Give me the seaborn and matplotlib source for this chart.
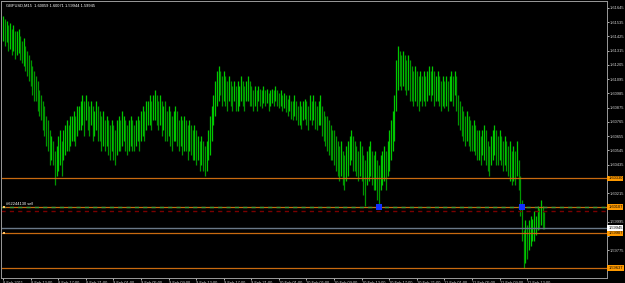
import matplotlib
matplotlib.use("Agg")
import matplotlib.pyplot as plt
import seaborn as sns
import pandas as pd
import numpy as np

# ---------------- data ----------------
title_text = "GBPUSD,M15  1.60059 1.60071 1.59944 1.59945"

# M15 bars, 8 Feb 2011 09:00 onwards (high / low), four bars per row = one hour
bar_high = [
    1.6158, 1.6156, 1.6154, 1.6151, 1.6153, 1.6148, 1.6151, 1.6147,
    1.6147, 1.6148, 1.6143, 1.6139, 1.6141, 1.6135, 1.6131, 1.6128,
    1.6124, 1.6120, 1.6116, 1.6112, 1.6108, 1.6101, 1.6097, 1.6093,
    1.6089, 1.6081, 1.6078, 1.6070, 1.6066, 1.6062, 1.6054, 1.6058,
    1.6066, 1.6070, 1.6062, 1.6070, 1.6074, 1.6078, 1.6074, 1.6081,
    1.6081, 1.6085, 1.6081, 1.6089, 1.6089, 1.6093, 1.6097, 1.6093,
    1.6097, 1.6093, 1.6089, 1.6093, 1.6089, 1.6085, 1.6093, 1.6089,
    1.6085, 1.6081, 1.6085, 1.6078, 1.6081, 1.6078, 1.6074, 1.6078,
    1.6074, 1.6070, 1.6078, 1.6081, 1.6078, 1.6085, 1.6081, 1.6078,
    1.6074, 1.6078, 1.6081, 1.6078, 1.6074, 1.6078, 1.6081, 1.6078,
    1.6085, 1.6089, 1.6085, 1.6093, 1.6093, 1.6097, 1.6093, 1.6097,
    1.6101, 1.6097, 1.6093, 1.6097, 1.6093, 1.6089, 1.6093, 1.6085,
    1.6089, 1.6085, 1.6081, 1.6085, 1.6089, 1.6085, 1.6078, 1.6081,
    1.6078, 1.6081, 1.6078, 1.6074, 1.6078, 1.6074, 1.6070, 1.6074,
    1.6070, 1.6066, 1.6062, 1.6066, 1.6062, 1.6058, 1.6062, 1.6070,
    1.6081, 1.6089, 1.6097, 1.6108, 1.6116, 1.6120, 1.6116, 1.6112,
    1.6116, 1.6112, 1.6108, 1.6112, 1.6108, 1.6104, 1.6108, 1.6104,
    1.6108, 1.6104, 1.6112, 1.6108, 1.6104, 1.6108, 1.6112, 1.6108,
    1.6104, 1.6101, 1.6104, 1.6101, 1.6104, 1.6102, 1.6101, 1.6104,
    1.6101, 1.6102, 1.6099, 1.6101, 1.6102, 1.6101, 1.6104, 1.6101,
    1.6099, 1.6101, 1.6097, 1.6099, 1.6097, 1.6094, 1.6097, 1.6093,
    1.6093, 1.6097, 1.6093, 1.6089, 1.6093, 1.6089, 1.6093, 1.6094,
    1.6093, 1.6089, 1.6097, 1.6093, 1.6097, 1.6093, 1.6089, 1.6093,
    1.6097, 1.6089, 1.6085, 1.6081, 1.6081, 1.6078, 1.6074, 1.6070,
    1.6070, 1.6066, 1.6062, 1.6058, 1.6062, 1.6054, 1.6051, 1.6058,
    1.6062, 1.6066, 1.6070, 1.6066, 1.6062, 1.6058, 1.6054, 1.6062,
    1.6058, 1.6051, 1.6047, 1.6054, 1.6058, 1.6062, 1.6054, 1.6051,
    1.6054, 1.6047, 1.6043, 1.6051, 1.6054, 1.6058, 1.6054, 1.6062,
    1.6070, 1.6078, 1.6085, 1.6097, 1.6124, 1.6135, 1.6131, 1.6128,
    1.6131, 1.6128, 1.6124, 1.6128, 1.6124, 1.6120, 1.6116, 1.6120,
    1.6116, 1.6112, 1.6116, 1.6112, 1.6116, 1.6112, 1.6116, 1.6120,
    1.6116, 1.6120, 1.6116, 1.6112, 1.6116, 1.6112, 1.6108, 1.6112,
    1.6108, 1.6112, 1.6108, 1.6112, 1.6116, 1.6112, 1.6116, 1.6112,
    1.6097, 1.6093, 1.6089, 1.6085, 1.6081, 1.6085, 1.6081, 1.6078,
    1.6074, 1.6078, 1.6074, 1.6070, 1.6070, 1.6066, 1.6070, 1.6074,
    1.6070, 1.6062, 1.6058, 1.6066, 1.6070, 1.6074, 1.6070, 1.6066,
    1.6070, 1.6066, 1.6062, 1.6066, 1.6062, 1.6058, 1.6062, 1.6054,
    1.6058, 1.6054, 1.6062, 1.6047, 1.6035, 1.6016, 1.5993, 1.6001,
    1.5997, 1.6001, 1.6004, 1.6002, 1.6008, 1.6004, 1.6012, 1.6010,
    1.6016, 1.6012, 1.6007]
bar_low = [
    1.6139, 1.6135, 1.6138, 1.6131, 1.6133, 1.6128, 1.6131, 1.6125,
    1.6128, 1.6130, 1.6124, 1.6122, 1.6120, 1.6116, 1.6112, 1.6108,
    1.6104, 1.6097, 1.6093, 1.6093, 1.6085, 1.6081, 1.6078, 1.6070,
    1.6066, 1.6058, 1.6054, 1.6043, 1.6047, 1.6043, 1.6028, 1.6035,
    1.6039, 1.6043, 1.6035, 1.6047, 1.6051, 1.6054, 1.6054, 1.6058,
    1.6062, 1.6062, 1.6058, 1.6066, 1.6070, 1.6070, 1.6074, 1.6066,
    1.6078, 1.6070, 1.6066, 1.6074, 1.6062, 1.6066, 1.6070, 1.6062,
    1.6062, 1.6054, 1.6058, 1.6054, 1.6058, 1.6051, 1.6047, 1.6054,
    1.6047, 1.6043, 1.6051, 1.6054, 1.6054, 1.6058, 1.6062, 1.6054,
    1.6051, 1.6054, 1.6058, 1.6054, 1.6054, 1.6058, 1.6062, 1.6054,
    1.6062, 1.6066, 1.6062, 1.6070, 1.6074, 1.6074, 1.6070, 1.6078,
    1.6078, 1.6074, 1.6070, 1.6074, 1.6066, 1.6070, 1.6062, 1.6062,
    1.6066, 1.6058, 1.6054, 1.6062, 1.6062, 1.6058, 1.6054, 1.6058,
    1.6051, 1.6054, 1.6054, 1.6047, 1.6054, 1.6051, 1.6047, 1.6047,
    1.6043, 1.6047, 1.6039, 1.6043, 1.6039, 1.6035, 1.6039, 1.6047,
    1.6051, 1.6062, 1.6074, 1.6081, 1.6089, 1.6093, 1.6097, 1.6089,
    1.6093, 1.6089, 1.6085, 1.6093, 1.6089, 1.6085, 1.6093, 1.6085,
    1.6085, 1.6089, 1.6093, 1.6089, 1.6085, 1.6093, 1.6093, 1.6089,
    1.6089, 1.6085, 1.6089, 1.6085, 1.6093, 1.6089, 1.6087, 1.6091,
    1.6089, 1.6091, 1.6085, 1.6089, 1.6091, 1.6089, 1.6093, 1.6089,
    1.6087, 1.6089, 1.6085, 1.6087, 1.6084, 1.6081, 1.6085, 1.6079,
    1.6078, 1.6081, 1.6078, 1.6074, 1.6074, 1.6071, 1.6078, 1.6079,
    1.6074, 1.6070, 1.6078, 1.6074, 1.6078, 1.6071, 1.6070, 1.6074,
    1.6074, 1.6066, 1.6062, 1.6058, 1.6054, 1.6051, 1.6047, 1.6047,
    1.6043, 1.6039, 1.6035, 1.6031, 1.6035, 1.6028, 1.6024, 1.6031,
    1.6035, 1.6043, 1.6047, 1.6039, 1.6039, 1.6035, 1.6031, 1.6035,
    1.6031, 1.6020, 1.6012, 1.6028, 1.6031, 1.6035, 1.6028, 1.6024,
    1.6024, 1.6016, 1.6011, 1.6024, 1.6028, 1.6031, 1.6024, 1.6035,
    1.6039, 1.6047, 1.6054, 1.6062, 1.6085, 1.6101, 1.6104, 1.6101,
    1.6104, 1.6101, 1.6097, 1.6101, 1.6093, 1.6093, 1.6089, 1.6093,
    1.6089, 1.6085, 1.6093, 1.6089, 1.6093, 1.6089, 1.6093, 1.6097,
    1.6093, 1.6097, 1.6089, 1.6093, 1.6093, 1.6089, 1.6085, 1.6089,
    1.6087, 1.6089, 1.6085, 1.6093, 1.6093, 1.6089, 1.6097, 1.6085,
    1.6074, 1.6070, 1.6066, 1.6062, 1.6058, 1.6062, 1.6058, 1.6054,
    1.6054, 1.6054, 1.6051, 1.6047, 1.6047, 1.6043, 1.6051, 1.6047,
    1.6043, 1.6039, 1.6035, 1.6043, 1.6047, 1.6051, 1.6043, 1.6043,
    1.6047, 1.6043, 1.6039, 1.6043, 1.6039, 1.6035, 1.6031, 1.6028,
    1.6031, 1.6028, 1.6035, 1.6024, 1.6004, 1.5985, 1.5964, 1.5968,
    1.5971, 1.5978, 1.5981, 1.5985, 1.5985, 1.5989, 1.5993, 1.5994,
    1.5997, 1.5994, 1.5994]

# horizontal price levels (order / stop / take-profit lines)
level_prices = [1.60330, 1.60107, 1.59907, 1.59637]
level_labels = ["1.60330", "1.60107", "1.59907", "1.59637"]
order_price = 1.60107
stop_price = 1.60076
bid_price = 1.59945
bid_label = "1.59945"
order_text = "#62244130 sell"
trade_mark_bars = [218, 301]

y_ticks = [1.61645, 1.61535, 1.61425, 1.61315, 1.61205, 1.61095, 1.60985, 1.60875, 1.60765,
           1.60655, 1.60545, 1.60435, 1.60325, 1.60215, 1.60105, 1.59995, 1.59885, 1.59775,
           1.59665]
x_tick_bars = [0, 16, 32, 48, 64, 80, 96, 112, 128, 144, 160, 176, 192, 208, 224, 240, 256,
               272, 288, 304]
x_tick_labels = ["8 Feb 2011", "8 Feb 13:00", "8 Feb 17:00", "8 Feb 21:00", "9 Feb 01:00",
                 "9 Feb 05:00", "9 Feb 09:00", "9 Feb 13:00", "9 Feb 17:00", "9 Feb 21:00",
                 "10 Feb 01:00", "10 Feb 05:00", "10 Feb 09:00", "10 Feb 13:00", "10 Feb 17:00",
                 "10 Feb 21:00", "11 Feb 01:00", "11 Feb 05:00", "11 Feb 09:00", "11 Feb 13:00"]

# ---------------- figure ----------------
sns.set_theme(style="dark", rc={"axes.facecolor": "black", "figure.facecolor": "black"})
plt.rcParams["font.family"] = ["Liberation Sans", "DejaVu Sans"]
FS = 2.9

W, H = 625, 283
fig = plt.figure(figsize=(W / 100, H / 100), dpi=100)
ax = fig.add_axes([1 / W, 1 - 278 / H, 606 / W, 277 / H])
ax.set_facecolor("black")

df = pd.DataFrame({"high": bar_high, "low": bar_low})
df["bar"] = np.arange(len(df))
mid = (df["high"] + df["low"]) / 2
df["color"] = np.where(mid.diff().fillna(0) >= 0, "#00c800", "#009600")
ax.vlines(df["bar"], df["low"], df["high"], colors=df["color"], linewidth=0.9)

ax.set_xlim(-1.2, 350.3)
ax.set_ylim(1.59561, 1.61698)

lv_color = "#c86a10"
for p in level_prices:
    ax.axhline(p, color=lv_color, linewidth=0.9)
ax.axhline(order_price, color="#3a9a3a", linewidth=1.0, linestyle=(0, (3, 3)))
ax.axhline(stop_price, color="#7a0000", linewidth=1.0, linestyle=(0, (3, 3)))
ax.axhline(bid_price, color="#6a7888", linewidth=1.0)

ax.scatter(trade_mark_bars, [order_price] * len(trade_mark_bars), marker="s", s=14,
           color="#1030ff", zorder=5, linewidths=0)
ax.scatter([0.6, 0.6], [order_price, level_prices[2]], marker="s", s=4,
           color="#ffc060", zorder=5, linewidths=0)
ax.text(1.5, order_price + 0.00010, order_text, color="white", fontsize=FS,
        va="bottom", ha="left")

ax.text(1.5, 1.61675, title_text, color="white", fontsize=FS, va="top", ha="left")

for s in ["top", "left", "right", "bottom"]:
    ax.spines[s].set_visible(True)
    ax.spines[s].set_color("#9a9a9a")
    ax.spines[s].set_linewidth(0.7)

ax.yaxis.tick_right()
ax.set_yticks(y_ticks)
lab = []
for t in y_ticks:
    near = any(abs(t - p) < 0.0004 for p in level_prices + [bid_price])
    lab.append("" if near else f"{t:.5f}")
ax.set_yticklabels(lab)
ax.set_xticks(x_tick_bars)
ax.set_xticklabels(x_tick_labels)
ax.tick_params(axis="y", colors="#d0d0d0", labelsize=FS, length=1.5, width=0.6, pad=0.6,
               right=True, left=False)
ax.tick_params(axis="x", colors="#d0d0d0", labelsize=FS, length=1.5, width=0.6, pad=0.3,
               bottom=True)
for lbl in ax.get_xticklabels():
    lbl.set_horizontalalignment("left")
ax.grid(False)

for p, t in zip(level_prices, level_labels):
    ax.annotate(t, xy=(1.0, p), xycoords=("axes fraction", "data"), xytext=(0.9, 0),
                textcoords="offset points", fontsize=FS, color="black", va="center",
                ha="left", bbox=dict(boxstyle="square,pad=0.2", fc="#ff9a00", ec="none"))
ax.annotate(bid_label, xy=(1.0, bid_price), xycoords=("axes fraction", "data"),
            xytext=(0.9, 0), textcoords="offset points", fontsize=FS, color="black",
            va="center", ha="left",
            bbox=dict(boxstyle="square,pad=0.2", fc="white", ec="none"))

fig.savefig("out.png", dpi=100, facecolor="black")
